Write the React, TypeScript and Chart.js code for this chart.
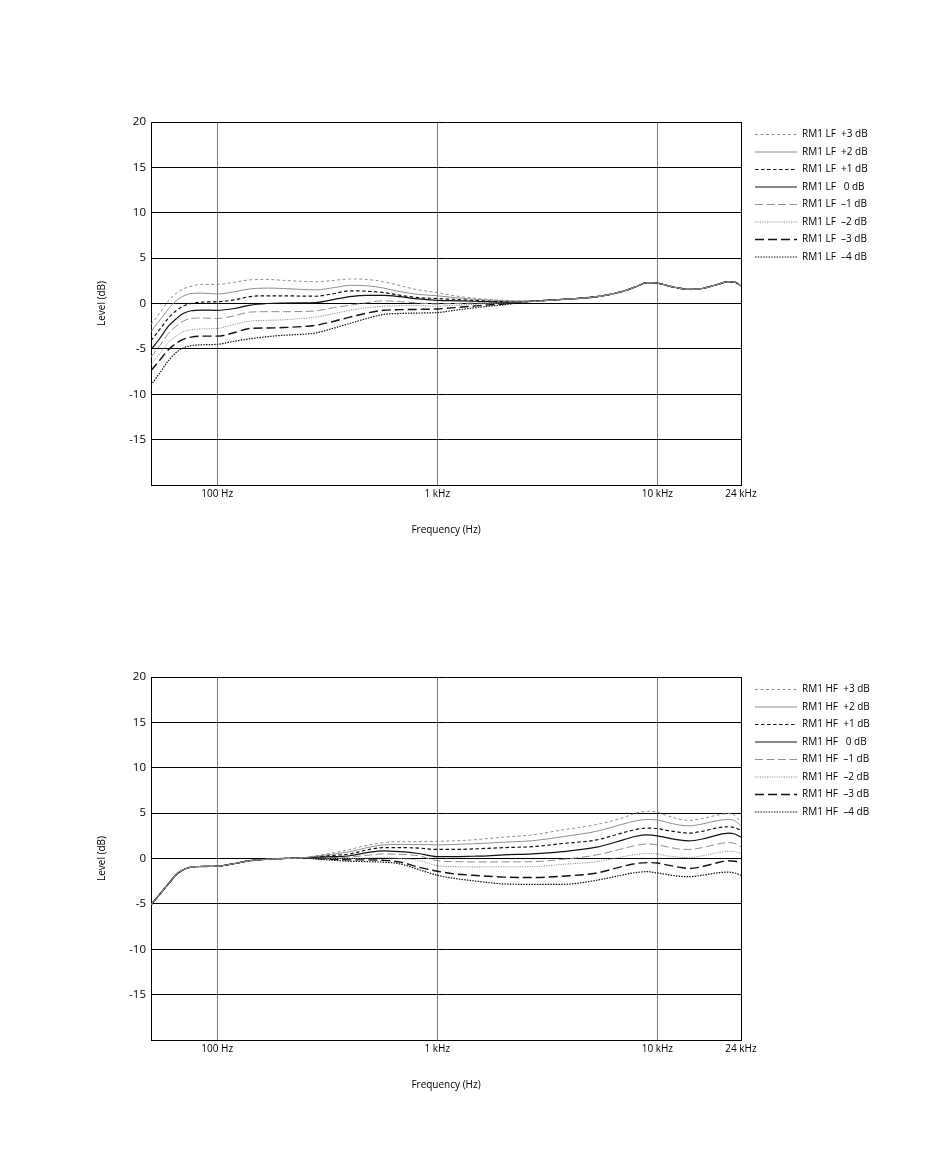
import React, { useEffect, useRef } from "react";
import { Chart, registerables } from "chart.js";

Chart.register(...registerables);

const FONT = "'Open Sans', 'Noto Sans', sans-serif";
Chart.defaults.font.family = FONT;
Chart.defaults.color = "#000";

// frequency grid (Hz) shared by every curve
const freqs = [
  50, 55, 60, 65, 70, 76, 85, 100, 120, 140, 170, 200, 240, 280, 340, 400, 480, 570, 680, 820,
  1000, 1200, 1450, 1700, 2000, 2700, 3700, 5300, 7000, 8000, 9000, 10000, 11000, 12500, 14000,
  16000, 18500, 21000, 22500, 24000,
];

const xTickValues = [100, 1000, 10000, 24000];
const xTickLabels = ["100 Hz", "1 kHz", "10 kHz", "24 kHz"];

const levelLabels = ["+3 dB", "+2 dB", "+1 dB", " 0 dB", "\u20131 dB", "\u20132 dB", "\u20133 dB", "\u20134 dB"];

// LF shelf: all curves meet above ~2.7 kHz
const lfTail = [0.25, 0.45, 0.75, 1.35, 1.85, 2.3, 2.25, 2.0, 1.7, 1.55, 1.65, 2.05, 2.4, 2.35, 1.95];
const lfP3 = [-2.3, -1.0, 0.3, 1.1, 1.6, 1.9, 2.1, 2.1, 2.35, 2.6, 2.65, 2.55, 2.45, 2.4, 2.55, 2.7, 2.65, 2.4, 1.95, 1.5, 1.2, 0.85, 0.6, 0.45, 0.35, ...lfTail];
const lfP2 = [-3.1, -1.8, -0.6, 0.3, 0.8, 1.1, 1.15, 1.05, 1.3, 1.6, 1.7, 1.65, 1.55, 1.5, 1.75, 2.0, 1.95, 1.7, 1.3, 1.0, 0.85, 0.65, 0.48, 0.38, 0.3, ...lfTail];
const lfP1 = [-4.1, -2.8, -1.6, -0.8, -0.3, 0.0, 0.15, 0.2, 0.4, 0.75, 0.85, 0.85, 0.82, 0.8, 1.1, 1.4, 1.35, 1.2, 0.9, 0.65, 0.55, 0.45, 0.35, 0.28, 0.22, ...lfTail];
const lf0 = [-5.1, -3.8, -2.5, -1.7, -1.1, -0.8, -0.72, -0.75, -0.55, -0.2, 0.0, 0.05, 0.07, 0.1, 0.45, 0.75, 0.9, 0.9, 0.75, 0.5, 0.35, 0.3, 0.25, 0.2, 0.15, ...lfTail];
const lfM1 = [-5.9, -4.6, -3.3, -2.5, -1.95, -1.65, -1.6, -1.65, -1.35, -0.95, -0.9, -0.9, -0.88, -0.82, -0.45, -0.2, 0.1, 0.3, 0.2, 0.05, -0.05, 0.0, 0.05, 0.08, 0.1, ...lfTail];
const lfM2 = [-6.7, -5.5, -4.3, -3.6, -3.1, -2.9, -2.8, -2.75, -2.3, -1.95, -1.85, -1.8, -1.65, -1.5, -1.1, -0.75, -0.45, -0.3, -0.25, -0.2, -0.3, -0.2, -0.1, 0.0, 0.05, ...lfTail];
const lfM3 = [-7.4, -6.2, -5.1, -4.4, -3.95, -3.7, -3.6, -3.6, -3.2, -2.75, -2.7, -2.65, -2.55, -2.4, -1.95, -1.5, -1.05, -0.75, -0.68, -0.65, -0.6, -0.45, -0.3, -0.15, -0.05, ...lfTail];
const lfM4 = [-9.0, -7.6, -6.3, -5.4, -4.9, -4.65, -4.55, -4.5, -4.15, -3.9, -3.65, -3.5, -3.4, -3.25, -2.7, -2.2, -1.65, -1.2, -1.1, -1.05, -1.0, -0.75, -0.5, -0.3, -0.15, ...lfTail];

// HF shelf: all curves share the low end up to ~240 Hz
const hfLow = [-5.1, -3.9, -2.8, -1.8, -1.25, -0.95, -0.88, -0.85, -0.55, -0.25, -0.08, 0.0, 0.05];
const hfP3 = [...hfLow, 0.3, 0.65, 1.0, 1.45, 1.75, 1.85, 1.85, 1.9, 1.95, 2.05, 2.2, 2.35, 2.6, 3.15, 3.75, 4.5, 5.0, 5.2, 5.1, 4.75, 4.35, 4.2, 4.4, 4.75, 4.95, 4.75, 3.95];
const hfP2 = [...hfLow, 0.25, 0.5, 0.75, 1.2, 1.5, 1.55, 1.55, 1.5, 1.55, 1.62, 1.7, 1.8, 1.95, 2.4, 3.0, 3.8, 4.15, 4.3, 4.25, 4.0, 3.7, 3.6, 3.8, 4.15, 4.3, 4.15, 3.6];
const hfP1 = [...hfLow, 0.2, 0.35, 0.5, 0.95, 1.2, 1.2, 1.15, 1.0, 1.0, 1.05, 1.12, 1.2, 1.3, 1.65, 2.05, 2.85, 3.2, 3.35, 3.3, 3.1, 2.9, 2.8, 3.0, 3.35, 3.5, 3.4, 3.1];
const hf0 = [...hfLow, 0.15, 0.2, 0.3, 0.65, 0.85, 0.75, 0.55, 0.2, 0.2, 0.25, 0.3, 0.4, 0.5, 0.75, 1.25, 2.05, 2.45, 2.6, 2.5, 2.3, 2.05, 1.95, 2.15, 2.55, 2.8, 2.7, 2.35];
const hfM1 = [...hfLow, 0.1, 0.1, 0.15, 0.35, 0.5, 0.45, 0.3, -0.25, -0.35, -0.38, -0.38, -0.37, -0.35, -0.1, 0.4, 1.1, 1.45, 1.6, 1.5, 1.3, 1.05, 1.0, 1.2, 1.55, 1.75, 1.65, 1.3];
const hfM2 = [...hfLow, 0.05, 0.0, 0.0, 0.05, 0.1, 0.0, -0.2, -0.8, -0.9, -0.93, -0.93, -0.92, -0.9, -0.65, -0.35, 0.2, 0.45, 0.55, 0.5, 0.3, 0.15, 0.1, 0.3, 0.6, 0.8, 0.75, 0.55];
const hfM3 = [...hfLow, 0.0, -0.1, -0.15, -0.15, -0.2, -0.4, -0.95, -1.4, -1.7, -1.85, -1.95, -2.05, -2.1, -1.95, -1.6, -0.85, -0.55, -0.45, -0.5, -0.7, -0.95, -1.1, -0.9, -0.5, -0.25, -0.3, -0.5];
const hfM4 = [...hfLow, -0.05, -0.2, -0.3, -0.35, -0.4, -0.6, -1.2, -1.85, -2.2, -2.45, -2.65, -2.8, -2.85, -2.85, -2.4, -1.8, -1.55, -1.45, -1.6, -1.75, -1.95, -2.0, -1.85, -1.6, -1.5, -1.6, -1.85];

const GRAY = "#8f8f8f";
const BLACK = "#111";

// line look per level, +3 dB first
const lineStyles = [
  { color: GRAY, dash: [3, 2.5], width: 1 },
  { color: GRAY, dash: [], width: 1 },
  { color: BLACK, dash: [3.5, 2.5], width: 1.2 },
  { color: BLACK, dash: [], width: 1.2 },
  { color: GRAY, dash: [8, 3.5], width: 1 },
  { color: GRAY, dash: [1.2, 1.2], width: 1 },
  { color: BLACK, dash: [9, 4], width: 1.4 },
  { color: BLACK, dash: [1.5, 1.2], width: 1.2 },
];

// plot box and legend geometry (px in the 950-wide canvas)
const PLOT_RIGHT = 741;
const LEGEND_LINE_X = 755;
const LEGEND_FONT = 10;
const LEGEND_PAD = 7.5;
const LEGEND_LINE_W = 42;

function FreqChart({ band, series }: { band: string; series: number[][] }) {
  const canvasRef = useRef<HTMLCanvasElement>(null);

  useEffect(() => {
    if (!canvasRef.current) return;

    const labels = series.map((_, i) => `RM1 ${band}  ${levelLabels[i]}`);

    // legend width as chart.js will size it, so the plot ends at PLOT_RIGHT
    const mctx = document.createElement("canvas").getContext("2d")!;
    mctx.font = `${LEGEND_FONT}px ${FONT}`;
    const textW = Math.max(...labels.map((l) => mctx.measureText(l).width));
    const legendW = LEGEND_PAD + LEGEND_LINE_W + LEGEND_FONT / 2 + textW + 10;
    const gapW = LEGEND_LINE_X - LEGEND_PAD - PLOT_RIGHT;
    const padRight = 950 - PLOT_RIGHT - gapW - legendW;

    const datasets = series.map((vals, i) => ({
      label: labels[i],
      data: freqs.map((f, k) => ({ x: f, y: vals[k] })),
      borderColor: lineStyles[i].color,
      backgroundColor: lineStyles[i].color,
      borderDash: lineStyles[i].dash,
      borderWidth: lineStyles[i].width,
      pointRadius: 0,
      fill: false,
      cubicInterpolationMode: "monotone" as const,
      yAxisID: "y",
    }));

    const chart = new Chart(canvasRef.current, {
      type: "line",
      data: { datasets },
      options: {
        responsive: true,
        maintainAspectRatio: false,
        animation: false,
        layout: { padding: { top: 122, right: padRight, bottom: 0, left: 0 } },
        plugins: {
          tooltip: { enabled: false },
          legend: {
            position: "right",
            align: "start",
            labels: {
              usePointStyle: true,
              pointStyle: "line",
              pointStyleWidth: LEGEND_LINE_W,
              padding: LEGEND_PAD,
              color: "#000",
              font: { size: LEGEND_FONT },
              generateLabels: (c: any) =>
                Chart.defaults.plugins.legend.labels.generateLabels(c).map((item: any, i: number) => ({
                  ...item,
                  lineDash: lineStyles[i].dash,
                  lineWidth: lineStyles[i].width,
                  strokeStyle: lineStyles[i].color,
                })),
            },
          },
        },
        scales: {
          x: {
            type: "logarithmic",
            min: 50,
            max: 24000,
            afterBuildTicks: (axis: any) => {
              axis.ticks = xTickValues.map((v) => ({ value: v }));
            },
            afterFit: (axis: any) => {
              axis.height = 70;
            },
            ticks: {
              autoSkip: false,
              maxRotation: 0,
              padding: 3,
              color: "#000",
              font: { size: 10 },
              callback: (_v: any, i: number) => xTickLabels[i],
            },
            grid: {
              drawTicks: false,
              lineWidth: 1,
              color: (ctx: any) => (ctx.tick && ctx.tick.value === 24000 ? "#000" : "#7a7a7a"),
            },
            border: { color: "#000", width: 1 },
            title: {
              display: true,
              text: "Frequency (Hz)",
              color: "#000",
              font: { size: 10 },
              padding: { top: 0, bottom: 19 },
            },
          },
          y: {
            min: -20,
            max: 20,
            afterFit: (axis: any) => {
              axis.width = 151;
            },
            ticks: {
              stepSize: 5,
              padding: 5,
              color: "#000",
              font: { size: 11.5 },
              callback: (v: any) => (v === -20 ? "" : String(v)),
            },
            grid: { color: "#000", lineWidth: 1, drawTicks: false },
            border: { color: "#000", width: 1 },
            title: {
              display: true,
              text: "Level (dB)",
              color: "#000",
              font: { size: 10 },
              padding: { top: 96, bottom: 0 },
            },
          },
          // keeps a small gap between the plot and the legend
          gap: {
            type: "linear",
            position: "right",
            grid: { display: false },
            ticks: { display: false },
            border: { display: false },
            afterFit: (axis: any) => {
              axis.width = gapW;
            },
          },
        },
      },
    });

    return () => chart.destroy();
  }, [band, series]);

  return (
    <div style={{ position: "relative", width: 950, height: 555 }}>
      <canvas ref={canvasRef} />
    </div>
  );
}

const lfSeries = [lfP3, lfP2, lfP1, lf0, lfM1, lfM2, lfM3, lfM4];
const hfSeries = [hfP3, hfP2, hfP1, hf0, hfM1, hfM2, hfM3, hfM4];

export default function App() {
  useEffect(() => {
    document.body.style.margin = "0";
  }, []);

  return (
    <div style={{ width: 950, height: 1176, background: "#fff" }}>
      <FreqChart band="LF" series={lfSeries} />
      <FreqChart band="HF" series={hfSeries} />
    </div>
  );
}
